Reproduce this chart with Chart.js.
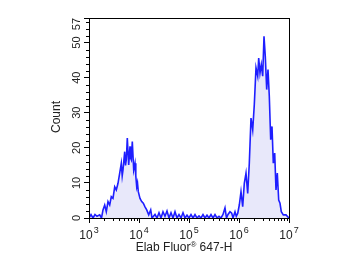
<!DOCTYPE html>
<html>
<head>
<meta charset="utf-8">
<script src="https://cdn.jsdelivr.net/npm/chart.js@4.4.1/dist/chart.umd.min.js"></script>
<style>
  html, body { margin: 0; padding: 0; background: #fff; }
  #wrap { width: 348px; height: 261px; }
</style>
</head>
<body>
<div id="wrap"><canvas id="histChart" width="348" height="261"></canvas></div>
<script>
// Histogram, x in log10 decades (10^3 .. 10^7), y = event count
// left (dim) population
const logLeft = [
    3.00, 3.04, 3.08, 3.12, 3.16, 3.214, 3.25, 3.28, 3.314, 3.346, 3.38, 3.414, 3.446, 3.48,
    3.514, 3.546, 3.58, 3.614, 3.646, 3.664, 3.68, 3.714, 3.73, 3.746, 3.766, 3.794, 3.82, 3.834,
    3.846, 3.866, 3.894, 3.92, 3.936, 3.954, 3.97, 3.986, 4.02, 4.054, 4.086, 4.12, 4.154, 4.194,
    4.234, 4.26, 4.29
];
const countLeft = [
    0, 1, 0, 1, 0.5, 0.9, 0, 2.3, 3.7, 1.8, 4.7, 3.7, 6.1, 5.6,
    8.9, 8, 9.9, 12.8, 15.6, 12, 13.7, 18.9, 15, 16.6, 22.8, 15.1, 20.4, 17,
    16.6, 21.8, 13.7, 15.6, 12, 8.9, 10, 7.5, 5.6, 4.7, 4.2, 3.2, 2.3, 0.9,
    2.3, 0, 0.5
];
// background noise between the populations
const logMiddle = [
    4.32, 4.36, 4.40, 4.44, 4.48, 4.52, 4.56, 4.60, 4.64, 4.68, 4.72, 4.76, 4.80, 4.84,
    4.88, 4.92, 4.96, 5.00, 5.04, 5.08, 5.12, 5.16, 5.20, 5.24, 5.28, 5.32, 5.36, 5.40,
    5.44, 5.48, 5.52, 5.56, 5.60, 5.64, 5.68, 5.72, 5.75, 5.78, 5.82, 5.854, 5.88
];
const countMiddle = [
    1, 0, 1.5, 0, 1.8, 0.5, 2, 0, 1.5, 0, 1.8, 0, 1, 0,
    1.5, 0, 0.8, 0, 1, 0, 1, 0, 0.6, 0, 1, 0, 0.8, 0,
    1, 0, 1, 0, 0.5, 0, 1, 2.9, 0, 1, 1.8, 1.4, 0
];
// right (bright) population
const logRight = [
    5.92, 5.946, 5.974, 6.006, 6.04, 6.074, 6.106, 6.14, 6.174, 6.206, 6.24, 6.274, 6.306,
    6.34, 6.374, 6.394, 6.42, 6.446, 6.474, 6.50, 6.526, 6.554, 6.58, 6.606, 6.634, 6.66,
    6.686, 6.714, 6.74, 6.766, 6.794, 6.82, 6.846, 6.886, 6.94, 6.98, 7.00
];
const countRight = [
    1.8, 0.5, 1.3, 3.7, 7.5, 3.2, 9.9, 12.8, 7, 15.6, 28.5, 25.1, 32.3,
    42.8, 40.4, 45.6, 41.3, 43.7, 40.4, 51.8, 46, 36.6, 42.3, 34.7, 22.3, 26.1,
    15.6, 18.5, 8, 12.8, 5.1, 4.2, 1.8, 0.9, 0.9, 0.3, 0
];

const xDecades = [3, 4, 5, 6, 7];
const yTickValues = [0, 10, 20, 30, 40, 50, 57];
const yMinorValues = [2, 4, 6, 8, 12, 14, 16, 18, 22, 24, 26, 28, 32, 34, 36, 38, 42, 44, 46, 48, 52, 54, 56];
const xTitle = ['Elab Fluor', '\u00AE', ' 647-H'];
const yTitle = 'Count';

const FONT = '"Liberation Sans", Arial, sans-serif';
const TEXT_COLOR = '#222';

const logIntensity = logLeft.concat(logMiddle, logRight);
const counts = countLeft.concat(countMiddle, countRight);

// frame, minor ticks and all axis text
const axisDecor = {
    id: 'axisDecor',
    afterDraw(chart) {
        const ctx = chart.ctx;
        const area = chart.chartArea;
        const xs = chart.scales.x;
        const ys = chart.scales.y;

        ctx.save();
        ctx.strokeStyle = '#000';
        ctx.lineWidth = 1;
        ctx.strokeRect(area.left + 0.5, area.top + 0.5, area.right - area.left, area.bottom - area.top);

        // minor ticks
        ctx.beginPath();
        for (let d = 3; d < 7; d++) {
            for (let m = 2; m <= 9; m++) {
                const px = Math.round(xs.getPixelForValue(d + Math.log10(m))) + 0.5;
                ctx.moveTo(px, area.bottom);
                ctx.lineTo(px, area.bottom + 3);
            }
        }
        yMinorValues.forEach(v => {
            const py = Math.round(ys.getPixelForValue(v)) + 0.5;
            ctx.moveTo(area.left, py);
            ctx.lineTo(area.left - 3, py);
        });
        ctx.stroke();

        ctx.fillStyle = TEXT_COLOR;

        // y tick labels, rotated
        ctx.font = '11px ' + FONT;
        ctx.textBaseline = 'middle';
        yTickValues.forEach(v => {
            const label = String(v);
            const w = ctx.measureText(label).width;
            let py = ys.getPixelForValue(v);
            if (py - w / 2 < area.top) py = area.top + w / 2;
            ctx.save();
            ctx.translate(area.left - 12, py);
            ctx.rotate(-Math.PI / 2);
            ctx.textAlign = 'center';
            ctx.fillText(label, 0, 0);
            ctx.restore();
        });

        // y title
        ctx.save();
        ctx.font = '12px ' + FONT;
        ctx.translate(area.left - 32, (area.top + area.bottom) / 2 - 1);
        ctx.rotate(-Math.PI / 2);
        ctx.textAlign = 'center';
        ctx.fillText(yTitle, 0, 0);
        ctx.restore();

        // x tick labels 10^n
        ctx.textBaseline = 'alphabetic';
        ctx.textAlign = 'left';
        xDecades.forEach(d => {
            const px = xs.getPixelForValue(d);
            ctx.font = '12px ' + FONT;
            const wBase = ctx.measureText('10').width;
            ctx.font = '9px ' + FONT;
            const wExp = ctx.measureText(String(d)).width;
            const start = px - (wBase + 1 + wExp) / 2;
            ctx.font = '12px ' + FONT;
            ctx.fillText('10', start, area.bottom + 21);
            ctx.font = '9px ' + FONT;
            ctx.fillText(String(d), start + wBase + 1, area.bottom + 15);
        });

        // x title with raised registered mark
        ctx.font = '12px ' + FONT;
        const w1 = ctx.measureText(xTitle[0]).width;
        const w3 = ctx.measureText(xTitle[2]).width;
        ctx.font = '8px ' + FONT;
        const w2 = ctx.measureText(xTitle[1]).width;
        let tx = (area.left + area.right) / 2 - 5 - (w1 + w2 + w3) / 2;
        const ty = area.bottom + 33;
        ctx.font = '12px ' + FONT;
        ctx.fillText(xTitle[0], tx, ty);
        tx += w1;
        ctx.font = '8px ' + FONT;
        ctx.fillText(xTitle[1], tx, ty - 4);
        tx += w2;
        ctx.font = '12px ' + FONT;
        ctx.fillText(xTitle[2], tx, ty);
        ctx.restore();
    }
};

new Chart(document.getElementById('histChart'), {
    type: 'line',
    data: {
        datasets: [{
            data: logIntensity.map((x, i) => ({ x: x, y: counts[i] })),
            borderColor: 'rgb(30, 30, 255)',
            backgroundColor: 'rgb(232, 232, 250)',
            borderWidth: 1.6,
            fill: 'origin',
            tension: 0,
            pointRadius: 0
        }]
    },
    options: {
        responsive: false,
        animation: false,
        layout: { padding: { left: 84, right: 59, top: 18, bottom: 38 } },
        plugins: { legend: { display: false }, tooltip: { enabled: false } },
        scales: {
            x: {
                type: 'linear',
                min: 3,
                max: 7,
                afterBuildTicks: scale => { scale.ticks = xDecades.map(v => ({ value: v })); },
                ticks: { display: false },
                grid: { drawOnChartArea: false, drawTicks: true, tickLength: 5, color: '#000' },
                border: { display: true, color: '#000', width: 1 }
            },
            y: {
                type: 'linear',
                min: 0,
                max: 57,
                afterBuildTicks: scale => { scale.ticks = yTickValues.map(v => ({ value: v })); },
                ticks: { display: false },
                grid: { drawOnChartArea: false, drawTicks: true, tickLength: 5, color: '#000' },
                border: { display: true, color: '#000', width: 1 }
            }
        }
    },
    plugins: [axisDecor]
});
</script>
</body>
</html>
